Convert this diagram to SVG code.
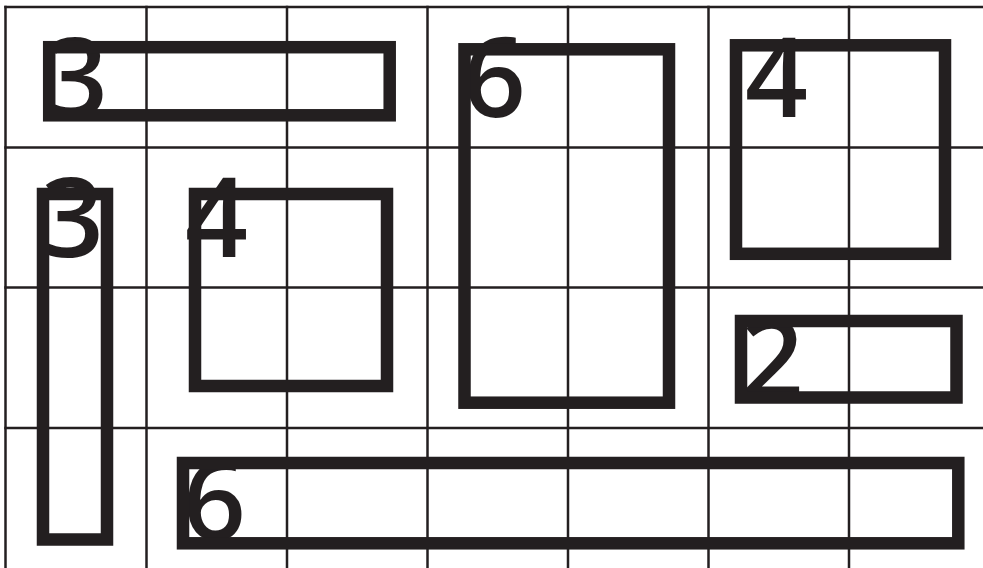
<svg xmlns="http://www.w3.org/2000/svg" width="983" height="568" viewBox="0 0 983 568">
  <style>
    .grid line { stroke: #231f20; stroke-width: 2.5; }
    .box { fill: none; stroke: #231f20; stroke-width: 12.5; }
    .num { font-family: "Open Sans", "Liberation Sans", Arial, sans-serif; font-size: 110px; font-weight: 600; fill: #231f20; }
  </style>
  <rect x="0" y="0" width="983" height="568" fill="#ffffff"/>
  <g id="grid" class="grid">
    <line x1="5.5" y1="5.8" x2="5.5" y2="568"/>
    <line x1="146.5" y1="5.8" x2="146.5" y2="568"/>
    <line x1="287" y1="5.8" x2="287" y2="568"/>
    <line x1="427.5" y1="5.8" x2="427.5" y2="568"/>
    <line x1="568" y1="5.8" x2="568" y2="568"/>
    <line x1="708.5" y1="5.8" x2="708.5" y2="568"/>
    <line x1="849" y1="5.8" x2="849" y2="568"/>
    <line x1="4.3" y1="7" x2="983" y2="7"/>
    <line x1="4.3" y1="147.5" x2="983" y2="147.5"/>
    <line x1="4.3" y1="287.5" x2="983" y2="287.5"/>
    <line x1="4.3" y1="428" x2="983" y2="428"/>
  </g>
  <g id="connectors"></g>
  <g id="cage-top-3">
    <text class="num" x="45" y="117">3</text>
    <rect class="box" x="49.2" y="47.2" width="340.5" height="68.1"/>
  </g>
  <g id="cage-left-3">
    <text class="num" x="41" y="257">3</text>
    <rect class="box" x="43" y="194" width="64" height="345.5"/>
  </g>
  <g id="cage-mid-4">
    <text class="num" x="185" y="257">4</text>
    <rect class="box" x="195" y="194" width="192" height="192"/>
  </g>
  <g id="cage-tall-6">
    <text class="num" x="463" y="117">6</text>
    <rect class="box" x="464.5" y="49.3" width="204.5" height="353.4"/>
  </g>
  <g id="cage-topright-4">
    <text class="num" x="745" y="117">4</text>
    <rect class="box" x="736" y="45.3" width="209" height="208.5"/>
  </g>
  <g id="cage-2">
    <text class="num" x="741" y="398">2</text>
    <rect class="box" x="741" y="321" width="215.5" height="76.5"/>
  </g>
  <g id="cage-bottom-6">
    <text class="num" x="183" y="540">6</text>
    <rect class="box" x="183" y="463" width="775.3" height="80.3"/>
  </g>
</svg>
